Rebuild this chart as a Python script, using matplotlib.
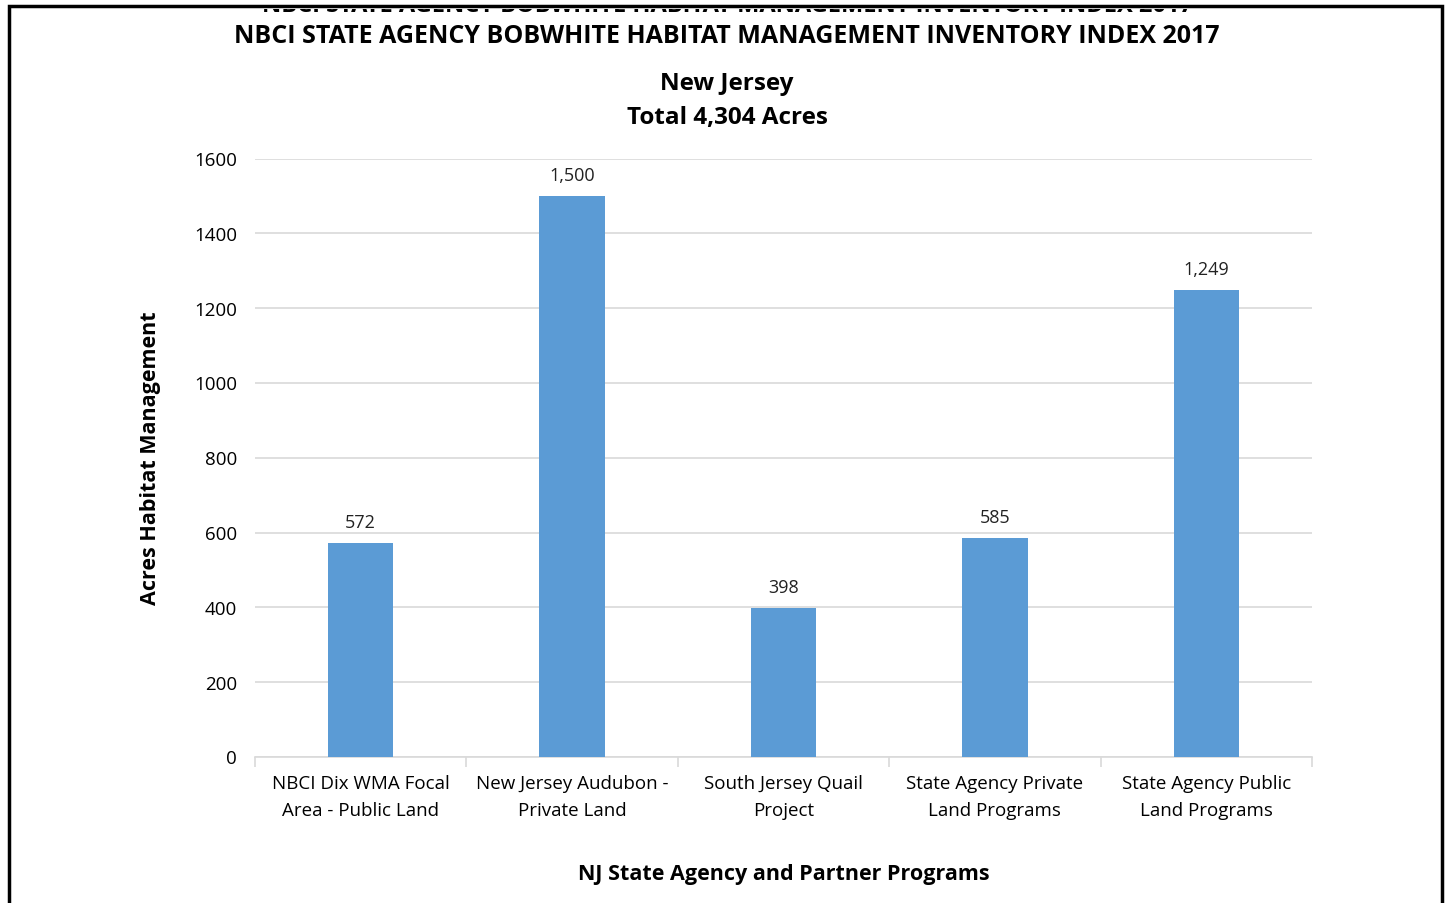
import matplotlib
matplotlib.use("Agg")
import matplotlib.pyplot as plt
import numpy as np
from matplotlib.patches import Rectangle

# Chart data
programs = ['NBCI Dix WMA Focal\nArea - Public Land',
            'New Jersey Audubon -\nPrivate Land',
            'South Jersey Quail\nProject',
            'State Agency Private\nLand Programs',
            'State Agency Public\nLand Programs']
acres = [572, 1500, 398, 585, 1249]
yticks = [0, 200, 400, 600, 800, 1000, 1200, 1400, 1600]

title = 'NBCI STATE AGENCY BOBWHITE HABITAT MANAGEMENT INVENTORY INDEX 2017'
subtitle = 'New Jersey\nTotal 4,304 Acres'

plt.rcParams['font.family'] = ['Open Sans', 'DejaVu Sans']

W, H = 1448, 903
fig = plt.figure(figsize=(W / 100, (H + 0.5) / 100), dpi=100)
ax = fig.add_axes([255 / W, 1 - 757 / H, (1312 - 255) / W, (757 - 159) / H])

x = np.arange(len(programs))
bars = ax.bar(x, acres, width=0.31, color='#5B9BD5', zorder=3)
for b, v in zip(bars, acres):
    ax.text(b.get_x() + b.get_width() / 2, v + 30, f'{v:,}',
            ha='center', va='bottom', fontsize=13, color='#222222')

ax.set_xlim(-0.5, len(programs) - 0.5)
ax.set_ylim(0, 1600)
ax.set_yticks(yticks)
ax.set_yticklabels([str(t) for t in yticks], fontsize=13.5)
ax.yaxis.grid(True, color='#D9D9D9', linewidth=1.2, zorder=0)
ax.tick_params(axis='y', length=0, pad=13)

# category labels centred, tick marks at category boundaries
ax.set_xticks(x)
ax.set_xticklabels(programs, fontsize=13.5, linespacing=1.6)
ax.tick_params(axis='x', which='major', length=0, pad=13)
ax.set_xticks(np.arange(-0.5, len(programs)), minor=True)
ax.tick_params(axis='x', which='minor', length=7, color='#D9D9D9', width=1.2)

for s in ['top', 'right', 'left']:
    ax.spines[s].set_visible(False)
ax.spines['bottom'].set_color('#D9D9D9')
ax.spines['bottom'].set_linewidth(1.2)

ax.set_ylabel('Acres Habitat Management', fontsize=15.5, fontweight='bold', labelpad=24)
ax.set_xlabel('NJ State Agency and Partner Programs', fontsize=15.5, fontweight='bold', labelpad=32)

fig.text(727 / W, 1 - 36 / H, title, ha='center', va='center', fontsize=18, fontweight='bold')
fig.text(727 / W, 1 - 101 / H, subtitle, ha='center', va='center', fontsize=17.5,
         fontweight='bold', linespacing=1.55)

# remnant of a title peeking out under the top frame line: white band hides the rest
fig.text(727 / W, 1 - 12 / H, title, ha='center', va='baseline', fontsize=17,
         fontweight='bold', zorder=1)
fig.patches.append(Rectangle((0, 1 - 9 / H), 1, 9 / H, transform=fig.transFigure,
                             facecolor='white', edgecolor='none', zorder=5))

# outer frame
fig.patches.append(Rectangle((9 / W, -0.05), (1442 - 9) / W, 1.05 - 6.5 / H,
                             transform=fig.transFigure, fill=False,
                             edgecolor='black', linewidth=2.5, zorder=6))

fig.savefig('out.png', dpi=100)
